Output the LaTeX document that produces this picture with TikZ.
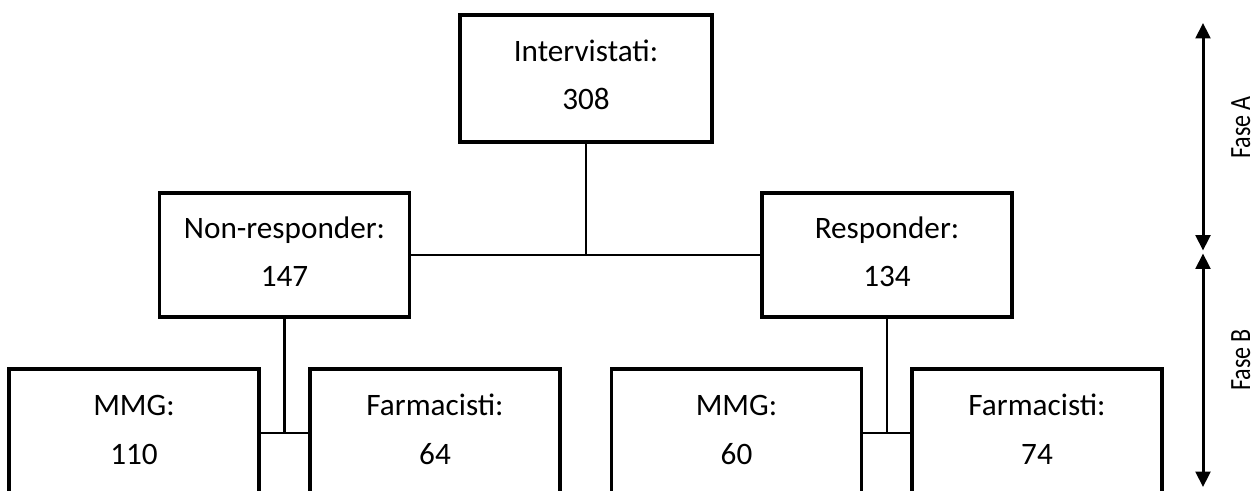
\documentclass[tikz,border=0pt]{standalone}
\usepackage{fontspec}
\setmainfont{Carlito}
\usetikzlibrary{arrows.meta,calc}
\begin{document}
\begin{tikzpicture}[x=0.75pt,y=-0.75pt,
  box/.style={draw=black, line width=2.6pt, minimum width=187.5pt, minimum height=93pt, inner sep=0pt, fill=white},
  txt/.style={anchor=base, inner sep=0pt, font=\fontsize{23.4pt}{28pt}\selectfont},
  link/.style={line width=1.9pt},
  phase/.style={line width=2.25pt, {Triangle[width=11pt,length=11.5pt]}-{Triangle[width=11pt,length=11.5pt]}},
  phlbl/.style={anchor=base, rotate=90, inner sep=0pt, font=\fontsize{22pt}{26pt}\selectfont}]
\useasboundingbox (0,0) rectangle (1256,490);
\fill[white] (0,0) rectangle (1256,490);
% boxes
\node[box, minimum width=189pt, minimum height=95.25pt] (top) at (586,78.5) {};
\node[box] (nr) at (284.5,255) {};
\node[box] (r) at (887,255) {};
\node[box] (m1) at (134,431) {};
\node[box] (f1) at (435,431) {};
\node[box] (m2) at (736.5,431) {};
\node[box] (f2) at (1037,431) {};
% junction points
\coordinate (jm1) at ([yshift=-1.5pt]m1.east);
\coordinate (jf1) at ([yshift=-1.5pt]f1.west);
\coordinate (jm2) at ([yshift=-1.5pt]m2.east);
\coordinate (jf2) at ([yshift=-1.5pt]f2.west);
% connectors
\draw[link] (top.south) -- (top.south |- nr.east);
\draw[link] (nr.east) -- (r.west);
\draw[link] (nr.south) -- (nr.south |- jm1);
\draw[link] (jm1) -- (jf1);
\draw[link] (r.south) -- (r.south |- jm2);
\draw[link] (jm2) -- (jf2);
% texts
\node[txt] (t0a) at ($(top.north)+(0,48)$) {Intervistati:};
\node[txt] (t0b) at ($(top.north)+(0,96.5)$) {308};
\node[txt] (t1a) at ($(nr.north)+(0,47.5)$) {Non-responder:};
\node[txt] (t1b) at ($(nr.north)+(0,95.5)$) {147};
\node[txt] (t2a) at ($(r.north)+(0,47.5)$) {Responder:};
\node[txt] (t2b) at ($(r.north)+(0,95.5)$) {134};
\node[txt] (t3a) at ($(m1.north)+(0,48)$) {MMG:};
\node[txt] (t3b) at ($(m1.north)+(0,97)$) {110};
\node[txt] (t4a) at ($(f1.north)+(0,48)$) {Farmacisti:};
\node[txt] (t4b) at ($(f1.north)+(0,97)$) {64};
\node[txt] (t5a) at ($(m2.north)+(0,48)$) {MMG:};
\node[txt] (t5b) at ($(m2.north)+(0,97)$) {60};
\node[txt] (t6a) at ($(f2.north)+(0,48)$) {Farmacisti:};
\node[txt] (t6b) at ($(f2.north)+(0,97)$) {74};
% phase arrows
\coordinate (pA1) at (1203,23);
\coordinate (pA2) at (1203,250.5);
\coordinate (pB1) at (1203,253.5);
\coordinate (pB2) at (1203,487);
\draw[phase] (pA1) -- (pA2);
\draw[phase] (pB1) -- (pB2);
\node[phlbl] (fa) at (1250,127.5) {\scalebox{0.82}[1]{Fase A}};
\node[phlbl] (fb) at (1250,360) {\scalebox{0.82}[1]{Fase B}};
\end{tikzpicture}
\end{document}
